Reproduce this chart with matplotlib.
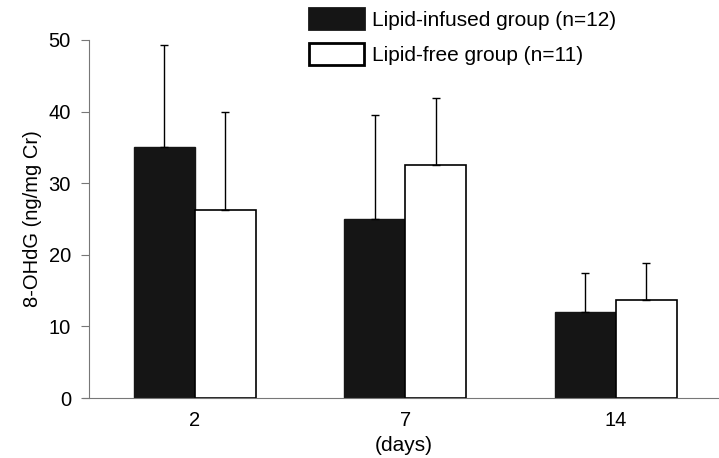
import matplotlib
matplotlib.use('Agg')
import matplotlib.pyplot as plt
import numpy as np

plt.rcParams['font.family'] = ['Liberation Sans', 'DejaVu Sans']

days = ['2', '7', '14']
infused_mean = [35.0, 25.0, 12.0]
infused_sd = [14.3, 14.5, 5.4]
free_mean = [26.3, 32.5, 13.7]
free_sd = [13.6, 9.4, 5.2]
labels = ['Lipid-infused group (n=12)', 'Lipid-free group (n=11)']

fig = plt.figure(figsize=(7.19, 4.58), dpi=100)
ax = fig.add_axes([0.1238, 0.131, 0.876, 0.7817])

x = np.arange(len(days))
w = 0.29
err_kw = dict(elinewidth=1.0, capsize=3, capthick=1.0, ecolor='black')
ax.bar(x - w / 2, infused_mean, w, color='#151515', edgecolor='#151515',
       linewidth=1, yerr=[np.zeros(3), infused_sd], error_kw=err_kw,
       label=labels[0])
ax.bar(x + w / 2, free_mean, w, color='white', edgecolor='black',
       linewidth=1.2, yerr=[np.zeros(3), free_sd], error_kw=err_kw,
       label=labels[1])

ax.set_xlim(-0.503, 2.49)
ax.set_ylim(0, 50)
ax.set_yticks([0, 10, 20, 30, 40, 50])
ax.set_xticks(x)
ax.set_xticklabels(days)
ax.tick_params(axis='y', direction='out', length=6, color='#777777',
               labelsize=14.5, pad=7)
ax.tick_params(axis='x', length=0, labelsize=14.5, pad=9)
for s in ['top', 'right']:
    ax.spines[s].set_visible(False)
ax.spines['left'].set_color('#777777')
ax.spines['bottom'].set_color('#777777')
ax.spines['bottom'].set_bounds(-0.53, 2.49)
ax.set_ylabel('8-OHdG (ng/mg Cr)', fontsize=14.5, labelpad=5)
ax.set_xlabel('(days)', fontsize=15, labelpad=5)

leg = ax.legend(loc='upper left', bbox_to_anchor=(0.349, 1.089),
                frameon=False, fontsize=15, handlelength=2.64,
                handleheight=1.2, labelspacing=0.65, handletextpad=0.38,
                borderaxespad=0, borderpad=0)
for p in leg.get_patches():
    p.set_linewidth(2)

fig.savefig('out.png', dpi=100)
